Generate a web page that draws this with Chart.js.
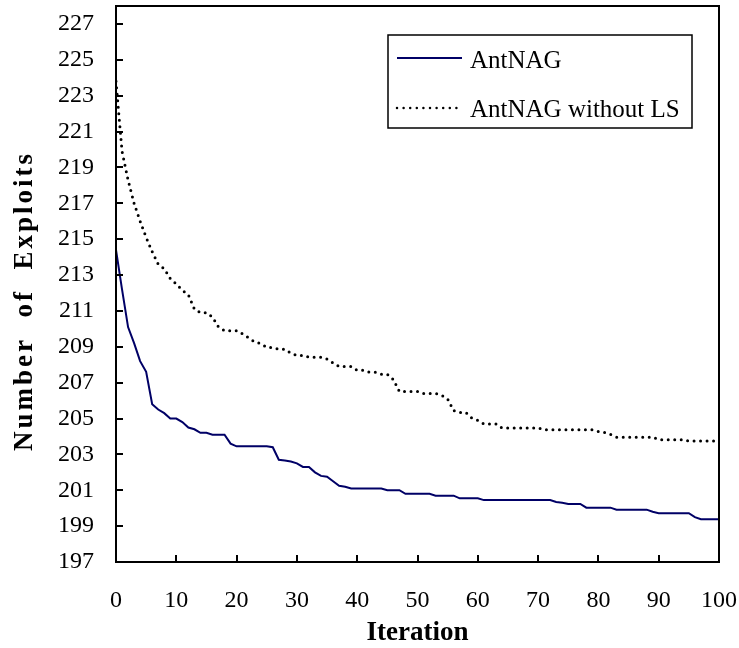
<!DOCTYPE html>
<html>
<head>
<meta charset="utf-8">
<script src="https://cdn.jsdelivr.net/npm/chart.js@4"></script>
<style>
html,body{margin:0;padding:0;background:#fff;}
#wrap{width:739px;height:648px;}
</style>
</head>
<body>
<div id="wrap"><canvas id="c" width="739" height="648"></canvas></div>
<script>
const iterations = Array.from({length: 101}, (_, i) => i);
const antNAG = [
  214.4, 212.2, 210.1, 209.2, 208.2, 207.6, 205.8, 205.5, 205.3, 205.0,
  205.0, 204.8, 204.5, 204.4, 204.2, 204.2, 204.1, 204.1, 204.1, 203.6,
  203.45, 203.45, 203.45, 203.45, 203.45, 203.45, 203.4, 202.7, 202.66, 202.6,
  202.5, 202.3, 202.3, 202.0, 201.8, 201.75, 201.5, 201.25, 201.2, 201.1,
  201.1, 201.1, 201.1, 201.1, 201.1, 201.0, 201.0, 201.0, 200.8, 200.8,
  200.8, 200.8, 200.8, 200.7, 200.7, 200.7, 200.7, 200.55, 200.55, 200.55,
  200.55, 200.45, 200.45, 200.45, 200.45, 200.45, 200.45, 200.45, 200.45, 200.45,
  200.45, 200.45, 200.45, 200.35, 200.3, 200.24, 200.24, 200.24, 200.03, 200.03,
  200.03, 200.03, 200.03, 199.92, 199.92, 199.92, 199.92, 199.92, 199.92, 199.8,
  199.72, 199.72, 199.72, 199.72, 199.72, 199.72, 199.5, 199.38, 199.38, 199.38,
  199.38
];
const antNAGwithoutLS = [
  223.8, 219.9, 218.3, 217.0, 216.0, 215.1, 214.3, 213.6, 213.35, 212.8,
  212.5, 212.15, 211.9, 211.1, 210.9, 210.9, 210.65, 210.1, 209.9, 209.9,
  209.9, 209.72, 209.5, 209.27, 209.18, 208.97, 208.95, 208.86, 208.86, 208.64,
  208.52, 208.52, 208.42, 208.42, 208.42, 208.32, 208.1, 207.9, 207.9, 207.9,
  207.69, 207.69, 207.58, 207.58, 207.47, 207.47, 207.17, 206.5, 206.5, 206.5,
  206.5, 206.39, 206.39, 206.39, 206.3, 206.09, 205.44, 205.34, 205.34, 205.03,
  204.9, 204.7, 204.7, 204.7, 204.47, 204.47, 204.47, 204.47, 204.47, 204.47,
  204.47, 204.37, 204.37, 204.37, 204.37, 204.37, 204.37, 204.37, 204.37, 204.37,
  204.28, 204.22, 204.11, 203.96, 203.96, 203.96, 203.96, 203.96, 203.96, 203.96,
  203.82, 203.82, 203.82, 203.82, 203.82, 203.74, 203.74, 203.74, 203.74, 203.74,
  203.74
];
const xTicks = [0, 10, 20, 30, 40, 50, 60, 70, 80, 90, 100];
const yTicks = [197, 199, 201, 203, 205, 207, 209, 211, 213, 215, 217, 219, 221, 223, 225, 227];
const seriesNames = ['AntNAG', 'AntNAG without LS'];
const xTitle = 'Iteration';
const yTitle = 'Number  of  Exploits';

const FONT = "'Liberation Serif', 'Times New Roman', serif";

const framePlugin = {
  id: 'frame',
  afterDatasetsDraw(chart) {
    const {ctx, chartArea: a, scales: {x, y}} = chart;
    ctx.save();
    ctx.strokeStyle = '#000';
    ctx.lineWidth = 2;
    ctx.beginPath();
    xTicks.forEach(v => {
      const px = Math.round(x.getPixelForValue(v));
      ctx.moveTo(px, a.bottom);
      ctx.lineTo(px, a.bottom - 7);
    });
    yTicks.forEach(v => {
      const py = Math.round(y.getPixelForValue(v));
      ctx.moveTo(a.left, py);
      ctx.lineTo(a.left + 7, py);
    });
    ctx.stroke();
    ctx.strokeRect(a.left, a.top, a.right - a.left, a.bottom - a.top);
    ctx.restore();
  }
};

const yTitlePlugin = {
  id: 'yTitle',
  afterDraw(chart) {
    const {ctx} = chart;
    ctx.save();
    ctx.fillStyle = '#000';
    ctx.font = "bold 27px " + FONT;
    if ('letterSpacing' in ctx) ctx.letterSpacing = '3px';
    ctx.textAlign = 'center';
    ctx.textBaseline = 'middle';
    ctx.translate(25, 301);
    ctx.rotate(-Math.PI / 2);
    ctx.fillText(yTitle, 0, 0);
    ctx.restore();
  }
};

const legendPlugin = {
  id: 'boxLegend',
  afterDraw(chart) {
    const {ctx} = chart;
    const bx = 388, by = 35, bw = 304, bh = 93;
    ctx.save();
    ctx.fillStyle = '#fff';
    ctx.fillRect(bx, by, bw, bh);
    ctx.strokeStyle = '#000';
    ctx.lineWidth = 1.5;
    ctx.strokeRect(bx, by, bw, bh);
    const rows = [58, 108];
    chart.data.datasets.forEach((ds, i) => {
      const yy = rows[i];
      ctx.beginPath();
      ctx.strokeStyle = ds.borderColor;
      if (ds.borderDash && ds.borderDash.length) {
        ctx.lineWidth = 2.5;
        ctx.lineCap = 'round';
        ctx.setLineDash([0, 6.6]);
      } else {
        ctx.lineWidth = 2;
        ctx.lineCap = 'butt';
        ctx.setLineDash([]);
      }
      ctx.moveTo(397, yy);
      ctx.lineTo(462, yy);
      ctx.stroke();
      ctx.setLineDash([]);
      ctx.fillStyle = '#000';
      ctx.font = "25px " + FONT;
      ctx.textBaseline = 'alphabetic';
      ctx.textAlign = 'left';
      ctx.fillText(ds.label, 470, i === 0 ? 68 : 117);
    });
    ctx.restore();
  }
};

new Chart(document.getElementById('c'), {
  type: 'line',
  data: {
    datasets: [
      {
        label: seriesNames[0],
        data: iterations.map((v, i) => ({x: v, y: antNAG[i]})),
        borderColor: '#000066',
        borderWidth: 2,
        pointRadius: 0,
        tension: 0,
        fill: false
      },
      {
        label: seriesNames[1],
        data: iterations.map((v, i) => ({x: v, y: antNAGwithoutLS[i]})),
        borderColor: '#000000',
        borderWidth: 3,
        borderDash: [0, 6.5],
        borderCapStyle: 'round',
        pointRadius: 0,
        tension: 0,
        fill: false
      }
    ]
  },
  options: {
    responsive: false,
    animation: false,
    devicePixelRatio: 1,
    layout: {padding: {top: 6, right: 20, left: 0, bottom: 0}},
    plugins: {
      legend: {display: false},
      tooltip: {enabled: false}
    },
    scales: {
      x: {
        type: 'linear',
        min: 0,
        max: 100,
        afterBuildTicks: s => { s.ticks = xTicks.map(v => ({value: v})); },
        afterFit: s => { s.height = 86; },
        grid: {display: true, color: 'rgba(0,0,0,0)', drawOnChartArea: false, drawTicks: true, tickLength: 24},
        border: {display: false},
        ticks: {
          color: '#000',
          padding: 0,
          maxRotation: 0,
          autoSkip: false,
          font: {family: FONT, size: 24, lineHeight: 1.2}
        },
        title: {
          display: true,
          text: xTitle,
          color: '#000',
          padding: {top: 0, bottom: 1},
          font: {family: FONT, size: 27, weight: 'bold', lineHeight: 1}
        }
      },
      y: {
        type: 'linear',
        min: 197,
        max: 228,
        afterBuildTicks: s => { s.ticks = yTicks.map(v => ({value: v})); },
        afterFit: s => { s.width = 116; },
        grid: {display: true, color: 'rgba(0,0,0,0)', drawOnChartArea: false, drawTicks: true, tickLength: 22},
        border: {display: false},
        ticks: {
          color: '#000',
          padding: 0,
          autoSkip: false,
          font: {family: FONT, size: 24, lineHeight: 0.4}
        },
        title: {display: false}
      }
    }
  },
  plugins: [framePlugin, yTitlePlugin, legendPlugin]
});
</script>
</body>
</html>
